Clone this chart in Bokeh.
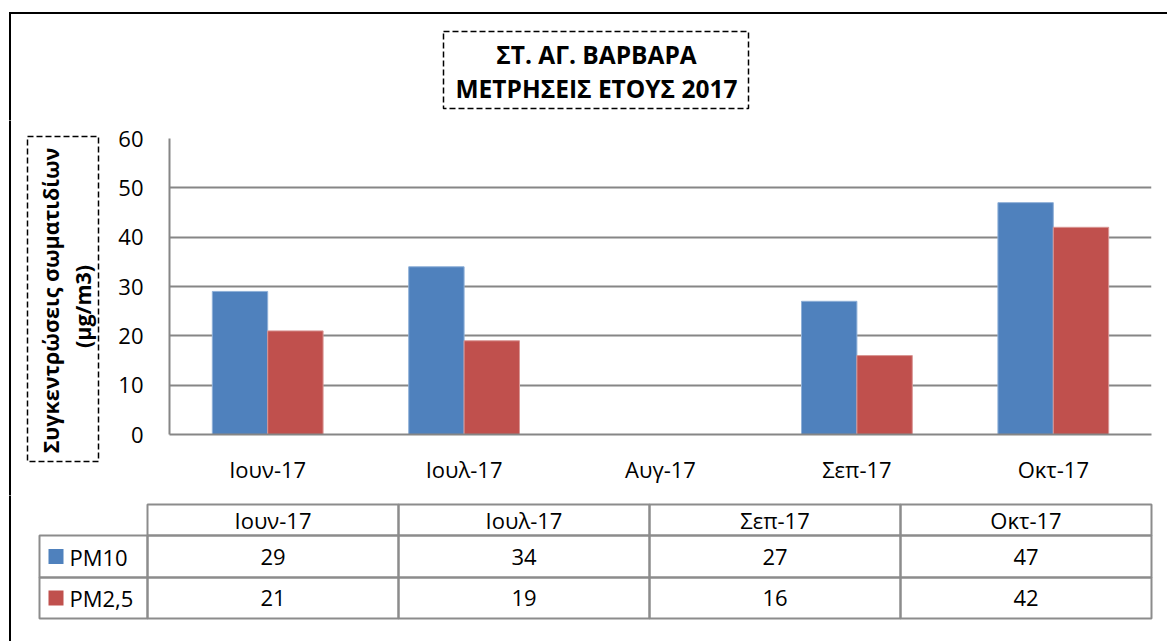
import math
from bokeh.plotting import figure
from bokeh.models import Range1d, FactorRange, ColumnDataSource
from bokeh.layouts import column, row
from bokeh.transform import dodge
from bokeh.core.properties import value
from bokeh.embed import file_html
from bokeh.resources import INLINE

# ---------------- data ----------------
title_lines = ["ΣΤ. ΑΓ. ΒΑΡΒΑΡΑ", "ΜΕΤΡΗΣΕΙΣ ΕΤΟΥΣ 2017"]
y_label_lines = ["Συγκεντρώσεις σωματιδίων", "(μg/m3)"]
months = ["Ιουν-17", "Ιουλ-17", "Αυγ-17", "Σεπ-17", "Οκτ-17"]
series_names = ["PM10", "PM2,5"]
pm10 = [29, 34, None, 27, 47]
pm25 = [21, 19, None, 16, 42]
y_ticks = [0, 10, 20, 30, 40, 50, 60]
series_colors = ["#4F81BD", "#C0504D"]

# ---------------- styling / layout (page px) ----------------
W, H = 1167, 641
TOP_H = 120          # title strip
MID_H = 375          # chart strip
BOT_H = H - TOP_H - MID_H
LEFT_W = 115
FONT = "Open Sans"
GRID = "#868686"
TBL = "#8C8C8C"
BORDER_X, BORDER_Y = 9.5, 12.5
DASH = "6 3"


def deco_fig(w, h, x0, y0):
    f = figure(width=w, height=h, x_range=Range1d(x0, x0 + w), y_range=Range1d(y0 + h, y0),
               x_axis_type=None, y_axis_type=None, min_border=0,
               output_backend="svg", toolbar_location=None)
    f.outline_line_color = None
    f.background_fill_color = "white"
    f.border_fill_color = "white"
    f.grid.grid_line_color = None
    return f


def left_border(f, y0, y1):
    # drawn as two overlapping pieces, each with one end inside the strip
    mid = (y0 + y1) / 2
    f.segment(x0=[BORDER_X, BORDER_X], y0=[y0 - 3, mid - 2],
              x1=[BORDER_X, BORDER_X], y1=[mid + 2, y1 + 3],
              line_color="black", line_width=2)


# ---------------- title strip ----------------
t = deco_fig(W, TOP_H, 0, 0)
t.segment(x0=[BORDER_X - 1, W / 2 - 2], y0=[BORDER_Y, BORDER_Y],
          x1=[W / 2 + 2, W + 3], y1=[BORDER_Y, BORDER_Y],
          line_color="black", line_width=2)
t.segment(x0=[BORDER_X], y0=[BORDER_Y - 1], x1=[BORDER_X], y1=[TOP_H + 3],
          line_color="black", line_width=2)
t.quad(left=[443], right=[748], top=[31], bottom=[108], fill_alpha=0,
       line_color="black", line_width=1.5, line_dash=DASH)
t.text(x=[596, 596], y=[54, 88], text=title_lines, text_font=value(FONT),
       text_font_style="bold", text_font_size="24.5px", text_align="center",
       text_baseline="middle", text_color="black")

# ---------------- left strip (y label) ----------------
lf = deco_fig(LEFT_W, MID_H, 0, TOP_H)
left_border(lf, TOP_H, TOP_H + MID_H)
lf.quad(left=[27], right=[98], top=[136], bottom=[461], fill_alpha=0,
        line_color="black", line_width=1.5, line_dash=DASH)
lf.text(x=[50, 82], y=[300, 306], text=y_label_lines, angle=math.pi / 2,
        text_font=value(FONT), text_font_style="bold", text_font_size="21.5px",
        text_align="center", text_baseline="middle", text_color="black")

# ---------------- chart ----------------
rows = [(m, a, b) for m, a, b in zip(months, pm10, pm25) if a is not None]
src = ColumnDataSource(dict(
    month=[r[0] for r in rows],
    pm10=[r[1] for r in rows],
    pm25=[r[2] for r in rows],
))

CW = W - LEFT_W
p = figure(width=CW, height=MID_H,
           x_range=FactorRange(*months, range_padding=0),
           y_range=Range1d(0, 60),
           output_backend="svg", toolbar_location=None,
           min_border_left=168 - LEFT_W, min_border_right=W - 1151,
           min_border_top=138 - TOP_H, min_border_bottom=TOP_H + MID_H - 434)
p.background_fill_color = "white"
p.border_fill_color = "white"
p.outline_line_color = None

bw = 0.282
p.vbar(x=dodge("month", -bw / 2, range=p.x_range), top="pm10", width=bw,
       source=src, fill_color=series_colors[0], line_color="#8FB0D8", line_width=1)
p.vbar(x=dodge("month", bw / 2, range=p.x_range), top="pm25", width=bw,
       source=src, fill_color=series_colors[1], line_color="#D99694", line_width=1)

p.xgrid.grid_line_color = None
p.ygrid.grid_line_color = GRID
p.ygrid.grid_line_width = 2
p.yaxis.ticker = y_ticks

for ax in (p.xaxis[0], p.yaxis[0]):
    ax.axis_line_color = GRID
    ax.axis_line_width = 2
    ax.major_tick_line_color = None
    ax.minor_tick_line_color = None
    ax.major_tick_out = 0
    ax.major_tick_in = 0
    ax.major_label_text_font = FONT
    ax.major_label_text_font_size = "22px"
    ax.major_label_text_color = "black"
p.xaxis.major_label_standoff = 19
p.yaxis.major_label_standoff = 26

# ---------------- data table ----------------
y0 = TOP_H + MID_H
tb = deco_fig(W, BOT_H, 0, y0)
left_border(tb, y0, H)

col_l, col_w = 147, 251
lab_l = 39
row_y = [504, 535, 577, 618]

cells_l, cells_r, cells_t, cells_b = [], [], [], []
tx, ty, tt = [], [], []
for j, r in enumerate(rows):
    l = col_l + j * col_w
    vals = [r[0], str(r[1]), str(r[2])]
    for k in range(3):
        cells_l.append(l)
        cells_r.append(l + col_w)
        cells_t.append(row_y[k])
        cells_b.append(row_y[k + 1])
        tx.append(l + col_w / 2)
        ty.append((row_y[k] + row_y[k + 1]) / 2)
        tt.append(vals[k])
for k in range(len(series_names)):
    cells_l.append(lab_l)
    cells_r.append(col_l)
    cells_t.append(row_y[k + 1])
    cells_b.append(row_y[k + 2])

tb.quad(left=cells_l, right=cells_r, top=cells_t, bottom=cells_b, fill_alpha=0,
        line_color=TBL, line_width=2)
tb.text(x=tx, y=ty, text=tt, text_font=value(FONT), text_font_size="22px",
        text_align="center", text_baseline="middle", text_color="black")

mids = [(row_y[k + 1] + row_y[k + 2]) / 2 for k in range(len(series_names))]
tb.rect(x=[55.5] * len(mids), y=mids, width=15, height=15,
        fill_color=series_colors, line_color=None)
tb.text(x=[69] * len(mids), y=mids, text=series_names, text_font=value(FONT),
        text_font_size="22px", text_align="left", text_baseline="middle",
        text_color="black")

layout = column(t, row(column(lf), column(p)), tb)
open("out.html", "w").write(file_html(layout, INLINE))
